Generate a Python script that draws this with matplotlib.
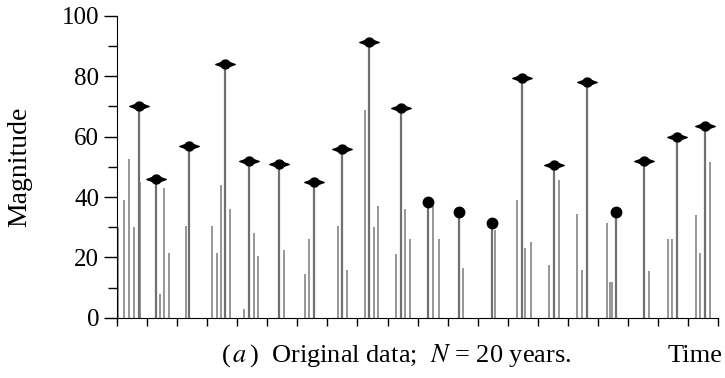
import matplotlib
matplotlib.use("Agg")
import matplotlib.pyplot as plt
import numpy as np
from matplotlib.path import Path

# event times (in years) and magnitudes
times = [0.03, 0.24, 0.42, 0.59, 0.74, 0.77,
         1.30, 1.44, 1.58, 1.74,
         2.30, 2.41,
         3.17, 3.32, 3.46, 3.61, 3.75,
         4.24, 4.41, 4.56, 4.68,
         5.40, 5.57,
         6.25, 6.40, 6.55,
         7.34, 7.50, 7.66,
         8.25, 8.38, 8.55, 8.70,
         9.28, 9.44, 9.59, 9.74,
         10.34, 10.52, 10.70,
         11.38, 11.51,
         12.46, 12.56,
         13.31, 13.47, 13.57, 13.76,
         14.37, 14.53, 14.69,
         15.30, 15.46, 15.62,
         16.30, 16.39, 16.47, 16.61,
         17.52, 17.68,
         18.33, 18.46, 18.62,
         19.25, 19.39, 19.56, 19.71]
magnitudes = [30, 39, 52.5, 30, 70, 45,
              46, 8, 43, 21.5,
              30.5, 57,
              30.5, 21.5, 44, 84, 36,
              3, 52, 28, 20.5,
              51, 22.5,
              14.5, 26, 45,
              30.5, 56, 16,
              69, 91.5, 30, 37,
              21, 69.5, 36, 26,
              38.5, 37, 26,
              35, 16.5,
              31.5, 29,
              39, 79.5, 23, 25,
              17.5, 50.5, 45.5,
              34.5, 16, 78,
              31.5, 12, 12, 35,
              52, 15.5,
              26, 26, 60,
              34, 21.5, 63.5, 51.5]
n_years = 20
round_marker_years = [10, 11, 12, 16]

times = np.array(times)
magnitudes = np.array(magnitudes)
year_idx = np.floor(times).astype(int)

plt.rcParams["font.family"] = ["Liberation Serif", "DejaVu Serif"]
plt.rcParams["mathtext.fontset"] = "stix"

fig = plt.figure(figsize=(7.25, 3.78), dpi=100)
ax = fig.add_axes([0.161, 0.159, 0.830, 0.799])

# all events
ax.vlines(times, 0, magnitudes, color="#8f8f8f", lw=1.3)

# annual maxima, marked with a lens shaped symbol
upper = [(-1, 0), (-0.7, 0.1), (-0.45, 0.2), (-0.3, 0.36), (-0.15, 0.44),
         (0, 0.46), (0.15, 0.44), (0.3, 0.36), (0.45, 0.2), (0.7, 0.1), (1, 0)]
lens = Path(upper + [(x, -y) for x, y in upper[-2::-1]], closed=True)
for yr in range(n_years):
    sel = np.where(year_idx == yr)[0]
    i = sel[np.argmax(magnitudes[sel])]
    ax.vlines(times[i], 0, magnitudes[i], color="#707070", lw=1.6)
    if yr in round_marker_years:
        ax.plot(times[i], magnitudes[i], "o", color="black", ms=7.5)
    else:
        ax.plot(times[i], magnitudes[i], marker=lens, color="black", ms=14,
                linestyle="none")

ax.set_xlim(0, n_years)
ax.set_ylim(0, 100)
ax.set_xticks(np.arange(0, n_years + 1))
ax.set_xticklabels([])
ax.set_yticks(np.arange(0, 101, 20))
ax.set_yticks(np.arange(10, 100, 20), minor=True)
ax.tick_params(axis="y", which="major", direction="out", length=9.5, width=1,
               labelsize=18, pad=3)
ax.tick_params(axis="y", which="minor", direction="out", length=6.5, width=1)
ax.tick_params(axis="x", direction="out", length=6, width=1)
for s in ["top", "right"]:
    ax.spines[s].set_visible(False)

ax.set_ylabel("Magnitude", fontsize=20)
ax.yaxis.set_label_coords(-0.14, 0.5)
fig.text(0.305, 0.058,
         r"($\,\mathit{a}\,$)  Original data;  $\mathit{N}$ = 20 years.",
         ha="left", va="center", fontsize=19)
fig.text(0.997, 0.058, "Time", ha="right", va="center", fontsize=19)

fig.savefig("out.png", dpi=100)
